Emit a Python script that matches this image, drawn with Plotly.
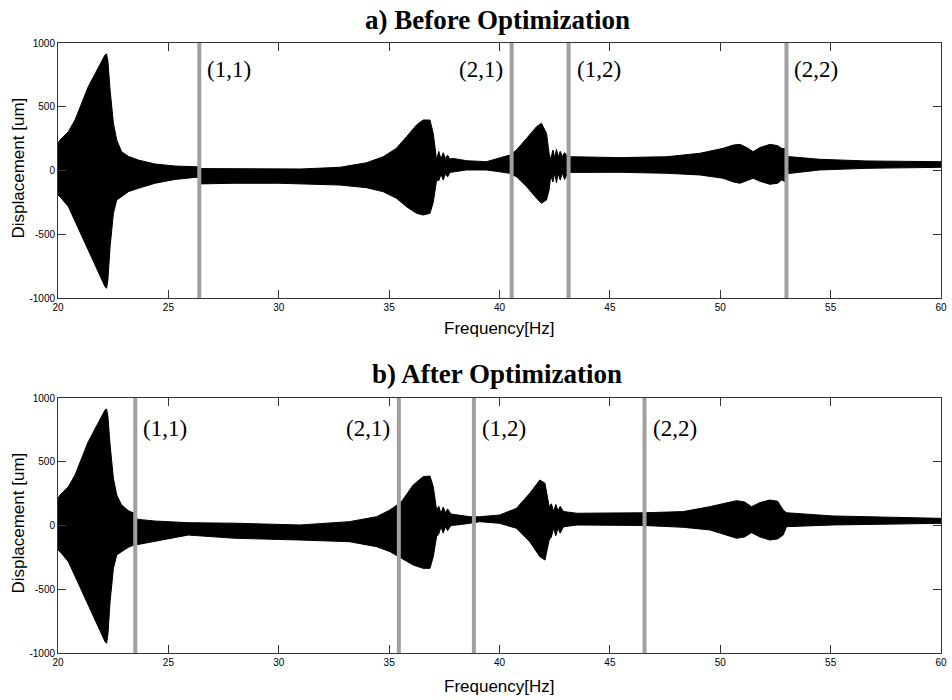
import plotly.graph_objects as go

# ---- envelope of the measured displacement signal (upper / lower bound) ----
# a) before optimization
freq_a = [20.0, 20.09, 20.47, 20.77, 21.37, 22.13, 22.2, 22.26, 22.36, 22.51, 22.66,
          22.88, 23.2, 23.64, 24.39, 25.3, 26.2, 26.4, 26.45, 28.0, 30.0, 31.0,
          32.77, 33.98, 34.73, 35.33, 35.79, 36.24, 36.54, 36.85, 37.0, 37.15,
          37.25, 37.35, 37.45, 37.55, 37.65, 37.75, 37.9, 38.5, 39.4, 40.0, 40.47,
          40.55, 40.77, 41.23, 41.68, 41.9, 42.13, 42.25, 42.32, 42.42, 42.5, 42.58,
          42.66, 42.75, 42.85, 42.95, 43.1, 43.27, 45.45, 47.57, 49.08, 50.13, 50.6,
          50.89, 51.2, 51.49, 51.8, 52.25, 52.6, 52.78, 52.98, 53.03, 54.5, 56.6, 60.0]
upper_a = [213, 239, 305, 396, 657, 906, 914, 860, 631, 370, 239,
           148, 110, 82, 51, 35, 30, 30, 15, 14, 12, 12,
           25, 61, 108, 174, 265, 357, 396, 396, 290, 82,
           150, 90, 140, 95, 120, 90, 95, 77, 69, 95, 121,
           130, 161, 252, 344, 370, 292, 130, 90, 160, 100, 165,
           105, 150, 110, 140, 110, 108, 101, 108, 135, 174, 200,
           205, 180, 148, 180, 205, 195, 174, 170, 110, 88, 75, 69]
lower_a = [-192, -205, -284, -388, -624, -911, -924, -859, -597, -336, -231,
           -205, -165, -140, -100, -70, -54, -54, -105, -100, -100, -102,
           -114, -135, -166, -218, -284, -336, -349, -336, -250, -74,
           -80, -30, -75, -25, -50, -15, -10, 4, 4, -10, -22,
           -30, -49, -127, -218, -257, -231, -150, -40, -90, -20, -95,
           -25, -75, -20, -70, -15, -10, -14, -22, -35, -61, -90,
           -100, -80, -61, -85, -108, -100, -75, -90, -25, 4, 17, 25]

# b) after optimization
freq_b = [20.0, 20.09, 20.47, 20.77, 21.37, 22.13, 22.2, 22.26, 22.36, 22.51, 22.66,
          22.88, 23.2, 23.45, 23.5, 23.64, 24.39, 25.9, 28.0, 30.96, 33.2, 34.43,
          35.04, 35.34, 35.44, 35.56, 36.09, 36.54, 36.85, 37.0, 37.15, 37.25, 37.35,
          37.45, 37.55, 37.65, 37.8, 38.06, 38.66, 38.84, 39.1, 40.0, 40.77, 41.37,
          41.83, 42.06, 42.25, 42.35, 42.45, 42.55, 42.65, 42.75, 42.9, 43.5, 44.55,
          46.57, 48.32, 49.53, 50.74, 51.1, 51.42, 51.8, 52.25, 52.6, 52.85, 53.0,
          55.1, 60.0]
upper_b = [213, 239, 305, 396, 657, 906, 914, 860, 631, 370, 239,
           161, 115, 96, 60, 48, 35, 22, 18, 4, 30, 69,
           122, 161, 175, 187, 318, 383, 388, 304, 122, 150, 95,
           145, 100, 130, 90, 82, 69, 69, 69, 82, 135, 253,
           357, 331, 148, 170, 110, 165, 115, 150, 110, 96, 96,
           100, 109, 148, 195, 185, 148, 180, 200, 190, 122, 100,
           75, 56]
lower_b = [-192, -205, -284, -388, -624, -911, -924, -859, -597, -336, -231,
           -205, -170, -153, -153, -150, -127, -75, -100, -114, -127, -166,
           -205, -231, -245, -257, -310, -336, -336, -245, -88, -65, -10,
           -60, -10, -40, 0, 4, 17, 20, 30, 17, -22, -127,
           -245, -271, -114, -90, -20, -80, -20, -60, -10, 4, 4,
           0, -14, -35, -100, -90, -56, -90, -114, -105, -75, -9,
           4, 17]

# mode markers
mode_labels = ["(1,1)", "(2,1)", "(1,2)", "(2,2)"]
label_side = ["right", "left", "right", "right"]
modes_a = [26.4, 40.55, 43.13, 53.0]
modes_b = [23.5, 35.44, 38.84, 46.57]

titles = ["a) Before Optimization", "b) After Optimization"]
x_ticks = [20, 25, 30, 35, 40, 45, 50, 55, 60]
y_ticks = [-1000, -500, 0, 500, 1000]
y_tick_text = ["-1000", "-500", "0", "500", "1000"]

W, H = 952, 700


def px(v):
    return v / W


def py(v):
    return 1 - v / H


# panel geometry (pixels)
panels = [
    dict(top=43, bottom=298, title_y=20, label_y=70, xlab_y=328),
    dict(top=398, bottom=653, title_y=374, label_y=428, xlab_y=686),
]
LEFT, RIGHT = 58, 941

fig = go.Figure()

data = [(freq_a, upper_a, lower_a, modes_a), (freq_b, upper_b, lower_b, modes_b)]
narrow = "Liberation Sans Narrow, Arial Narrow, Liberation Sans, Arial"
serif = "Liberation Serif, Times New Roman, serif"

annotations = []
shapes = []
for i, (f, up, lo, modes) in enumerate(data):
    xa = "x" if i == 0 else "x2"
    ya = "y" if i == 0 else "y2"
    fig.add_trace(go.Scatter(
        x=list(f) + list(f[::-1]),
        y=list(up) + list(lo[::-1]),
        mode="lines", fill="toself", fillcolor="black",
        line=dict(color="black", width=1),
        xaxis=xa, yaxis=ya, hoverinfo="skip", showlegend=False,
    ))
    p = panels[i]
    for m, lab, side in zip(modes, mode_labels, label_side):
        shapes.append(dict(type="line", xref=xa, yref=f"{ya} domain",
                           x0=m, x1=m, y0=0, y1=1,
                           line=dict(color="#a0a0a0", width=4), layer="above"))
        annotations.append(dict(
            x=m, xref=xa, y=py(p["label_y"]), yref="paper",
            text=lab, showarrow=False,
            xanchor="left" if side == "right" else "right", yanchor="middle",
            xshift=6 if side == "right" else -7,
            font=dict(family=serif, size=23, color="black")))
    annotations.append(dict(
        x=px(497), xref="paper", y=py(p["title_y"]), yref="paper",
        text=f"<b>{titles[i]}</b>", showarrow=False, xanchor="center", yanchor="middle",
        font=dict(family=serif, size=27, color="black")))
    annotations.append(dict(
        x=px(499), xref="paper", y=py(p["xlab_y"]), yref="paper",
        text="Frequency[Hz]", showarrow=False, xanchor="center", yanchor="middle",
        font=dict(family=narrow, size=17, color="black")))
    annotations.append(dict(
        x=px(18), xref="paper", y=py((p["top"] + p["bottom"]) / 2 - 2), yref="paper",
        text="Displacement [um]", showarrow=False, textangle=-90,
        xanchor="center", yanchor="middle",
        font=dict(family="Liberation Sans, Arial", size=17, color="black")))

axis_common = dict(
    showline=True, linecolor="#333333", linewidth=1, mirror="ticks",
    ticks="inside", ticklen=8, tickcolor="#333333", tickwidth=1,
    showgrid=False, zeroline=False, automargin=False,
    tickfont=dict(family=narrow, size=10, color="black"),
)

layout = dict(
    width=W, height=H, autosize=False,
    margin=dict(l=0, r=0, t=0, b=0, pad=0, autoexpand=False),
    paper_bgcolor="white", plot_bgcolor="white",
    showlegend=False,
    annotations=annotations, shapes=shapes,
)
for i, p in enumerate(panels):
    sx = "" if i == 0 else "2"
    layout[f"xaxis{sx}"] = dict(
        axis_common, domain=[px(LEFT), px(RIGHT)], range=[20, 60],
        tickvals=x_ticks, ticktext=[str(t) for t in x_ticks],
        anchor=f"y{sx}")
    layout[f"yaxis{sx}"] = dict(
        axis_common, domain=[py(p["bottom"]), py(p["top"])], range=[-1000, 1000],
        tickvals=y_ticks, ticktext=y_tick_text, anchor=f"x{sx}")

fig.update_layout(**layout)
fig.write_html("out.html")
